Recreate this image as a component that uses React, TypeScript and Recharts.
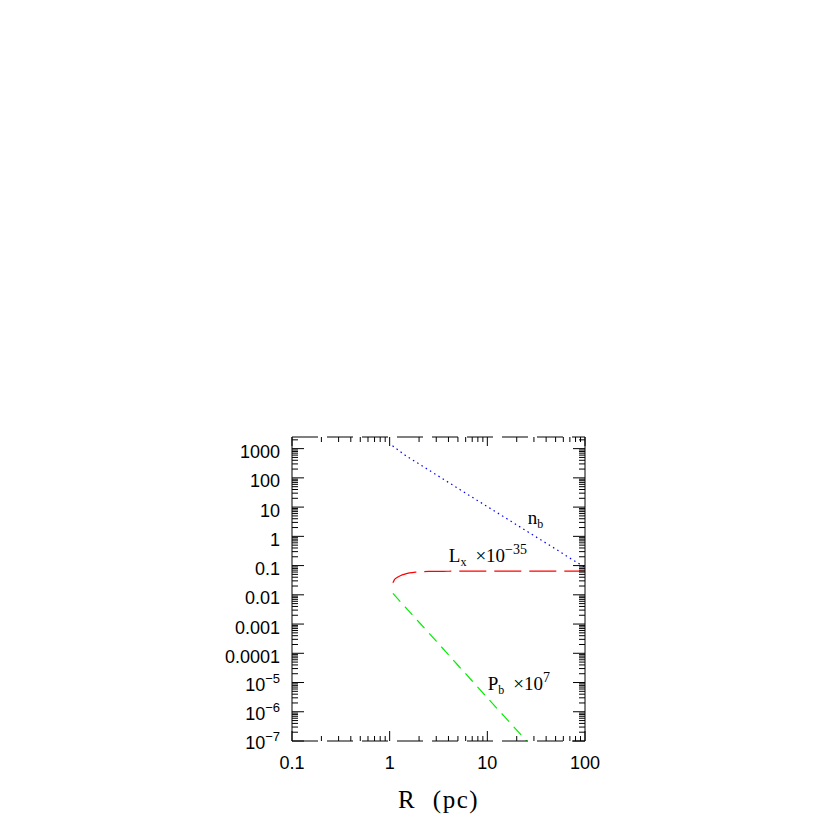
import { LineChart, Line, XAxis, YAxis, ReferenceDot } from "recharts";

// n_b (blue, dotted)
const N_B = [
  { r: 1.07, v: 1250 },
  { r: 1.5, v: 540 },
  { r: 2, v: 300 },
  { r: 3, v: 128 },
  { r: 5, v: 44 },
  { r: 7, v: 21.7 },
  { r: 10, v: 10.4 },
  { r: 15, v: 4.5 },
  { r: 20, v: 2.46 },
  { r: 30, v: 1.06 },
  { r: 50, v: 0.37 },
  { r: 70, v: 0.18 },
  { r: 100, v: 0.087 },
];

// L_x x 1e-35 (red, long dash)
const L_X = [
  { r: 1.08, v: 0.026 },
  { r: 1.12, v: 0.033 },
  { r: 1.2, v: 0.04 },
  { r: 1.3, v: 0.046 },
  { r: 1.43, v: 0.051 },
  { r: 1.6, v: 0.056 },
  { r: 1.88, v: 0.06 },
  { r: 2.5, v: 0.063 },
  { r: 4, v: 0.064 },
  { r: 10, v: 0.065 },
  { r: 100, v: 0.065 },
];

// P_b x 1e7 (green, dashed)
const P_B = [
  { r: 1.08, v: 0.0112 },
  { r: 1.5, v: 3.3e-3 },
  { r: 2, v: 1.15e-3 },
  { r: 3, v: 2.6e-4 },
  { r: 5, v: 3.9e-5 },
  { r: 7, v: 1.13e-5 },
  { r: 10, v: 3.0e-6 },
  { r: 15, v: 6.8e-7 },
  { r: 20, v: 2.35e-7 },
  { r: 25.3, v: 1e-7 },
];

const X_MAJOR = [0.1, 1, 10, 100];
const X_LABELS = ["0.1", "1", "10", "100"];
const Y_MAJOR = [1e-7, 1e-6, 1e-5, 1e-4, 1e-3, 0.01, 0.1, 1, 10, 100, 1000];
const Y_LABELS: [string, string][] = [
  ["10", "−7"],
  ["10", "−6"],
  ["10", "−5"],
  ["0.0001", ""],
  ["0.001", ""],
  ["0.01", ""],
  ["0.1", ""],
  ["1", ""],
  ["10", ""],
  ["100", ""],
  ["1000", ""],
];
const MINOR = [2, 3, 4, 5, 6, 7, 8, 9];

const X_DOMAIN = [0.1, 100];
const Y_DOMAIN = [1e-7, 2500];

const withMinors = (majors: number[], max: number) =>
  majors.flatMap((m) => [m, ...MINOR.map((k) => m * k)]).filter((v) => v <= max * 1.0001);

const X_TICKS = withMinors(X_MAJOR, X_DOMAIN[1]);
const Y_TICKS = withMinors(Y_MAJOR, Y_DOMAIN[1]);

const SANS = "'Liberation Sans', Arial, sans-serif";
const SERIF = "'Liberation Serif', 'Times New Roman', serif";

function BottomTick({ x, y, payload }: any) {
  const i = X_MAJOR.indexOf(payload.value);
  const major = i >= 0;
  return (
    <g>
      <line x1={x} x2={x} y1={y} y2={y - (major ? 10 : 5)} stroke="#000" />
      {major && (
        <text x={x} y={y + 28} textAnchor="middle" fontFamily={SANS} fontSize={18} fill="#000">
          {X_LABELS[i]}
        </text>
      )}
    </g>
  );
}

function TopTick({ x, y, payload }: any) {
  const major = X_MAJOR.indexOf(payload.value) >= 0;
  return <line x1={x} x2={x} y1={y} y2={y + (major ? 9 : 5)} stroke="#000" />;
}

function LeftTick({ x, y, payload }: any) {
  const i = Y_MAJOR.indexOf(payload.value);
  const major = i >= 0;
  const lab = major ? Y_LABELS[i] : null;
  return (
    <g>
      <line x1={x} x2={x + (major ? 12 : 6)} y1={y} y2={y} stroke="#000" />
      {lab && (
        <text x={x - 12} y={y + (lab[1] ? 8 : 9.5)} textAnchor="end" fontFamily={SANS} fontSize={18} fill="#000">
          {lab[0]}
          {lab[1] && (
            <tspan dy={-8} fontSize={13}>
              {lab[1]}
            </tspan>
          )}
        </text>
      )}
    </g>
  );
}

function RightTick({ x, y, payload }: any) {
  const major = Y_MAJOR.indexOf(payload.value) >= 0;
  return <line x1={x} x2={x - (major ? 12 : 6)} y1={y} y2={y} stroke="#000" />;
}

const note = (render: (x: number, y: number) => any) => (p: any) =>
  render(p.viewBox.x + p.viewBox.width / 2, p.viewBox.y + p.viewBox.height / 2);

export default function App() {
  return (
    <LineChart width={814} height={814} margin={{ top: 399, right: 207, bottom: 51, left: 224 }}>
      <XAxis
        xAxisId="b"
        dataKey="r"
        type="number"
        scale="log"
        domain={X_DOMAIN}
        allowDataOverflow
        ticks={X_TICKS}
        interval={0}
        height={30}
        tickSize={0}
        tickMargin={0}
        tickLine={false}
        tick={<BottomTick />}
        axisLine={{ stroke: "#000", strokeDasharray: "26 9" }}
        label={{
          content: (p: any) => (
            <text
              x={p.viewBox.x + p.viewBox.width / 2}
              y={p.viewBox.y + 67}
              textAnchor="middle"
              fontFamily={SERIF}
              fontSize={25}
              letterSpacing={1.5}
              wordSpacing={9}
              fill="#000"
            >
              R (pc)
            </text>
          ),
        }}
      />
      <XAxis
        xAxisId="t"
        orientation="top"
        dataKey="r"
        type="number"
        scale="log"
        domain={X_DOMAIN}
        allowDataOverflow
        ticks={X_TICKS}
        interval={0}
        height={30}
        tickSize={0}
        tickMargin={0}
        tickLine={false}
        tick={<TopTick />}
        axisLine={{ stroke: "#000", strokeDasharray: "26 9" }}
      />
      <YAxis
        yAxisId="l"
        dataKey="v"
        type="number"
        scale="log"
        domain={Y_DOMAIN}
        allowDataOverflow
        ticks={Y_TICKS}
        interval={0}
        width={60}
        tickSize={0}
        tickMargin={0}
        tickLine={false}
        tick={<LeftTick />}
        axisLine={{ stroke: "#000" }}
      />
      <YAxis
        yAxisId="r"
        orientation="right"
        dataKey="v"
        type="number"
        scale="log"
        domain={Y_DOMAIN}
        allowDataOverflow
        ticks={Y_TICKS}
        interval={0}
        width={30}
        tickSize={0}
        tickMargin={0}
        tickLine={false}
        tick={<RightTick />}
        axisLine={{ stroke: "#000" }}
      />
      <Line
        xAxisId="b"
        yAxisId="l"
        data={N_B}
        dataKey="v"
        type="linear"
        stroke="#0000ff"
        strokeWidth={1.2}
        strokeDasharray="1.5 3.5"
        dot={false}
        isAnimationActive={false}
      />
      <Line
        xAxisId="b"
        yAxisId="l"
        data={L_X}
        dataKey="v"
        type="monotone"
        stroke="#ff0000"
        strokeWidth={1.2}
        strokeDasharray="27 8"
        dot={false}
        isAnimationActive={false}
      />
      <Line
        xAxisId="b"
        yAxisId="l"
        data={P_B}
        dataKey="v"
        type="linear"
        stroke="#00ee00"
        strokeWidth={1.2}
        strokeDasharray="11 7"
        dot={false}
        isAnimationActive={false}
      />
      <ReferenceDot
        xAxisId="b"
        yAxisId="l"
        x={26}
        y={2.6}
        r={0}
        fill="none"
        stroke="none"
        label={{
          content: note((x, y) => (
            <text x={x} y={y} fontFamily={SERIF} fontSize={19} fill="#000">
              n
              <tspan dy={4} fontSize={12}>
                b
              </tspan>
            </text>
          )),
        }}
      />
      <ReferenceDot
        xAxisId="b"
        yAxisId="l"
        x={4.03}
        y={0.131}
        r={0}
        fill="none"
        stroke="none"
        label={{
          content: note((x, y) => (
            <text x={x} y={y} fontFamily={SERIF} fontSize={19} fill="#000">
              L
              <tspan dy={4} fontSize={12}>
                x
              </tspan>
              <tspan dx={9} dy={-4}>
                ×10
              </tspan>
              <tspan dy={-8} fontSize={14}>
                −35
              </tspan>
            </text>
          )),
        }}
      />
      <ReferenceDot
        xAxisId="b"
        yAxisId="l"
        x={10.1}
        y={5.7e-6}
        r={0}
        fill="none"
        stroke="none"
        label={{
          content: note((x, y) => (
            <text x={x} y={y} fontFamily={SERIF} fontSize={19} fill="#000">
              P
              <tspan dy={4} fontSize={12}>
                b
              </tspan>
              <tspan dx={9} dy={-4}>
                ×10
              </tspan>
              <tspan dy={-8} fontSize={14}>
                7
              </tspan>
            </text>
          )),
        }}
      />
    </LineChart>
  );
}
